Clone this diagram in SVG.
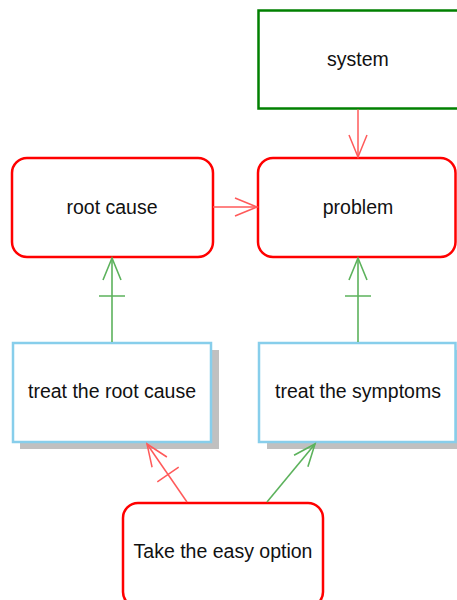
<svg xmlns="http://www.w3.org/2000/svg" width="457" height="600" viewBox="0 0 457 600">
<style>
.lbl{font-family:"Liberation Sans",Arial,sans-serif;font-size:19.5px;fill:#111;text-anchor:middle}
.red{fill:#fff;stroke:#ff0000;stroke-width:2.5}
.grn{fill:#fff;stroke:#008000;stroke-width:2.5}
.blu{fill:#fff;stroke:#87ceeb;stroke-width:2.5}
.shd{fill:#c0c0c0}
.cr{stroke:#ff5a5a;stroke-width:1.5;fill:none}
.cg{stroke:#5cb25c;stroke-width:1.6;fill:none}
</style>
<defs>
<marker id="ar" markerUnits="userSpaceOnUse" markerWidth="50" markerHeight="40" viewBox="-40 -20 50 40" refX="0" refY="0" orient="auto" overflow="visible">
<path d="M-22,-9 L0,0 L-22,9" fill="none" stroke="#ff5a5a" stroke-width="1.5"/>
</marker>
<marker id="arb" markerUnits="userSpaceOnUse" markerWidth="50" markerHeight="40" viewBox="-40 -20 50 40" refX="0" refY="0" orient="auto" overflow="visible">
<path d="M-22,-9 L0,0 L-22,9 M-37,-13 L-37,13" fill="none" stroke="#ff5a5a" stroke-width="1.5"/>
</marker>
<marker id="ag" markerUnits="userSpaceOnUse" markerWidth="50" markerHeight="40" viewBox="-40 -20 50 40" refX="0" refY="0" orient="auto" overflow="visible">
<path d="M-22,-9 L0,0 L-22,9" fill="none" stroke="#5cb25c" stroke-width="1.6"/>
</marker>
<marker id="agb" markerUnits="userSpaceOnUse" markerWidth="50" markerHeight="40" viewBox="-40 -20 50 40" refX="0" refY="0" orient="auto" overflow="visible">
<path d="M-22,-9 L0,0 L-22,9 M-38,-13 L-38,13" fill="none" stroke="#5cb25c" stroke-width="1.6"/>
</marker>
</defs>
<g id="system">
<rect class="grn" x="258.5" y="10.5" width="220" height="98"/>
<text class="lbl" x="358" y="66">system</text>
</g>
<g id="root-cause">
<rect class="red" x="12" y="158" width="201" height="99" rx="15" ry="15"/>
<text class="lbl" x="112" y="214">root cause</text>
</g>
<g id="problem">
<rect class="red" x="258" y="158" width="197.5" height="99" rx="15" ry="15"/>
<text class="lbl" x="358" y="214">problem</text>
</g>
<g id="treat-root-cause">
<rect class="shd" x="20" y="350" width="199" height="99"/>
<rect class="blu" x="13" y="343" width="198" height="99"/>
<text class="lbl" x="112" y="398">treat the root cause</text>
</g>
<g id="treat-symptoms">
<rect class="shd" x="267" y="350" width="199" height="99"/>
<rect class="blu" x="259" y="343" width="196.5" height="99"/>
<text class="lbl" x="358" y="398">treat the symptoms</text>
</g>
<g id="easy-option">
<rect class="red" x="123" y="503" width="200" height="104" rx="15" ry="15"/>
<text class="lbl" x="223" y="558">Take the easy option</text>
</g>
<g id="connectors">
<line class="cr" x1="358" y1="109.5" x2="358" y2="157" marker-end="url(#ar)"/>
<line class="cr" x1="213" y1="207" x2="257" y2="207" marker-end="url(#ar)"/>
<line class="cg" x1="112" y1="342" x2="112" y2="258" marker-end="url(#agb)"/>
<line class="cg" x1="358" y1="342" x2="358" y2="258" marker-end="url(#agb)"/>
<line class="cr" x1="187" y1="502" x2="147" y2="444" marker-end="url(#arb)"/>
<line class="cg" x1="267" y1="502" x2="315" y2="444" marker-end="url(#ag)"/>
</g>
</svg>
